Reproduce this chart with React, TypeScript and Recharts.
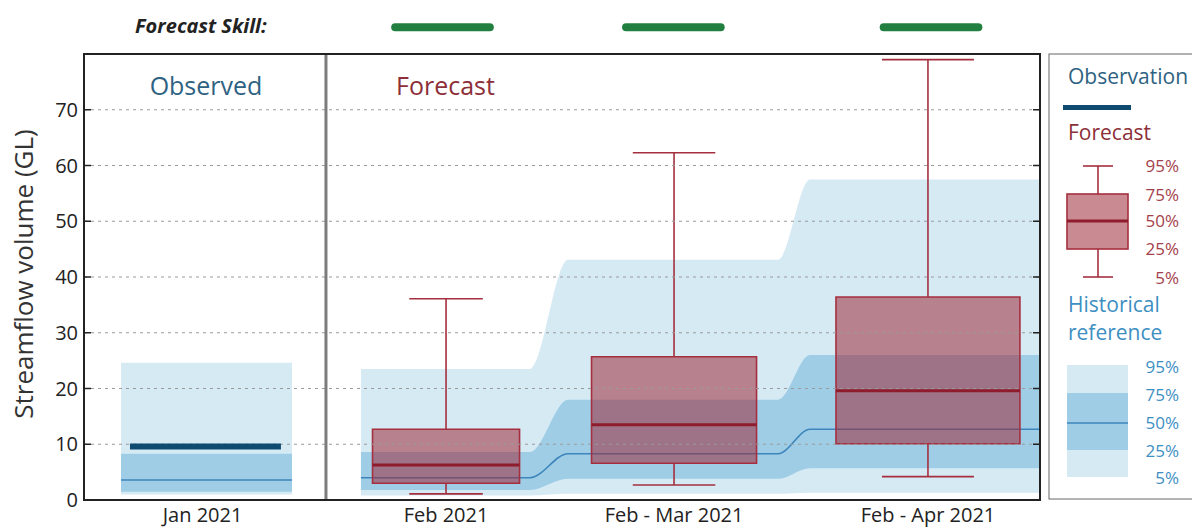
import React from 'react';
import {
  ComposedChart,
  Area,
  Line,
  XAxis,
  YAxis,
  CartesianGrid,
  ReferenceArea,
  ReferenceLine,
} from 'recharts';

if (typeof document !== 'undefined') {
  document.body.style.margin = '0';
  document.body.style.overflow = 'hidden';
}

// ---------- categories / labels ----------
const OBS_LABEL = 'Jan 2021';
const FORECAST_LABELS = ['Feb 2021', 'Feb - Mar 2021', 'Feb - Apr 2021'];
const Y_TICKS = [0, 10, 20, 30, 40, 50, 60, 70];

// ---------- observed month ----------
const OBSERVED_VOLUME = 9.6;
// historical reference for Jan: 5%, 25%, 50%, 75%, 95%
const JAN_HIST = [1.0, 1.5, 3.6, 8.3, 24.6];

// ---------- historical reference for forecast periods ----------
const HIST_P5 = [0.8, 1.1, 1.3];
const HIST_P25 = [1.8, 3.8, 5.7];
const HIST_P50 = [4.0, 8.3, 12.7];
const HIST_P75 = [8.6, 18.0, 26.0];
const HIST_P95 = [23.5, 43.1, 57.5];

// ---------- forecast quantiles ----------
const FC_P5 = [1.1, 2.7, 4.2];
const FC_P25 = [3.0, 6.6, 10.1];
const FC_P50 = [6.3, 13.5, 19.6];
const FC_P75 = [12.7, 25.7, 36.4];
const FC_P95 = [36.1, 62.3, 79.0];

// forecast skill per period
const FORECAST_SKILL = ['high', 'high', 'high'];

// ---------- layout (x axis units 0..100 across the plot) ----------
const JAN_CENTER = 12.4;
const JAN_SPAN = [3.87, 21.76];
const OBS_SPAN = [4.81, 20.6];
const DIVIDER_X = 25.31;
const FC_CENTERS = [37.87, 61.72, 88.28];
const SKILL_CENTERS = [37.5, 61.65, 88.6];
const BOX_HALF = [7.69, 8.63, 9.62];
const PERIOD_SPANS = [
  [28.97, 46.65],
  [50.63, 72.6],
  [75.94, 100],
];
const SKILL_Y = 84.8;
const SKILL_HALF = 4.95;

const W = 1192;
const H = 529;
const PLOT = { left: 84, right: 1040, top: 54, bottom: 500 };
const FONT = '"Open Sans", "Noto Sans", sans-serif';

const COLORS = {
  light: '#d6eaf4',
  mid: '#9fcde6',
  histLine: '#3d86bc',
  obs: '#0f4b70',
  boxFill: '#9e2a38',
  boxStroke: '#a52f3f',
  median: '#8e1c2c',
  grid: '#9a9a9a',
  frame: '#222',
  divider: '#7c7c7c',
  skill: '#21803f',
  obsText: '#2f6282',
  fcText: '#8c2f38',
  fcPct: '#a3414a',
  histText: '#3d8fc2',
  text: '#222',
};

const SKILL_COLORS: Record<string, string> = { high: COLORS.skill, medium: '#e0a020', low: '#c03030' };

// ---------- data rows ----------
type Row = {
  x: number;
  janOuter?: [number, number];
  janInner?: [number, number];
  jan50?: number;
  obs?: number;
  outer?: [number, number];
  inner?: [number, number];
  mid?: number;
};

const janFields = {
  janOuter: [JAN_HIST[0], JAN_HIST[4]] as [number, number],
  janInner: [JAN_HIST[1], JAN_HIST[3]] as [number, number],
  jan50: JAN_HIST[2],
};

const rows: Row[] = [];
rows.push({ x: JAN_SPAN[0], ...janFields });
rows.push({ x: OBS_SPAN[0], ...janFields, obs: OBSERVED_VOLUME });
rows.push({ x: OBS_SPAN[1], ...janFields, obs: OBSERVED_VOLUME });
rows.push({ x: JAN_SPAN[1], ...janFields });
PERIOD_SPANS.forEach((span, i) => {
  span.forEach((x) => {
    rows.push({
      x,
      outer: [HIST_P5[i], HIST_P95[i]],
      inner: [HIST_P25[i], HIST_P75[i]],
      mid: HIST_P50[i],
    });
  });
});

const TICK_X = [JAN_CENTER, ...FC_CENTERS];
const TICK_LABELS = [OBS_LABEL, ...FORECAST_LABELS];

const YTick = (props: any) => {
  const { x, y, payload } = props;
  return (
    <g>
      <text
        x={x}
        y={y}
        dy="0.35em"
        textAnchor="end"
        fontSize={20}
        fontFamily={FONT}
        fill={COLORS.text}
      >
        {payload.value}
      </text>
      <line x1={PLOT.left} x2={PLOT.left + 7} y1={y} y2={y} stroke={COLORS.frame} strokeWidth={1.5} />
      <line x1={PLOT.right - 7} x2={PLOT.right} y1={y} y2={y} stroke={COLORS.frame} strokeWidth={1.5} />
    </g>
  );
};

const FC_LEGEND_LABELS = [
  { t: '95%', y: 166 },
  { t: '75%', y: 195 },
  { t: '50%', y: 221 },
  { t: '25%', y: 249 },
  { t: '5%', y: 278 },
];
const HIST_LEGEND_LABELS = [
  { t: '95%', y: 367 },
  { t: '75%', y: 395 },
  { t: '50%', y: 423 },
  { t: '25%', y: 451 },
  { t: '5%', y: 478 },
];

export default function App() {
  const boxes = FORECAST_LABELS.flatMap((_, i) => {
    const c = FC_CENTERS[i];
    const hw = BOX_HALF[i];
    const cw = hw / 2;
    const lineProps = {
      stroke: COLORS.boxStroke,
      strokeWidth: 1.6,
      ifOverflow: 'visible' as const,
      zIndex: 460,
    };
    return [
      <ReferenceArea
        key={`box${i}`}
        x1={c - hw}
        x2={c + hw}
        y1={FC_P25[i]}
        y2={FC_P75[i]}
        fill={COLORS.boxFill}
        fillOpacity={0.55}
        stroke={COLORS.boxStroke}
        strokeWidth={1.6}
        strokeOpacity={1}
        ifOverflow="visible"
        zIndex={450}
      />,
      <ReferenceLine key={`wu${i}`} segment={[{ x: c, y: FC_P75[i] }, { x: c, y: FC_P95[i] }]} {...lineProps} />,
      <ReferenceLine key={`wl${i}`} segment={[{ x: c, y: FC_P5[i] }, { x: c, y: FC_P25[i] }]} {...lineProps} />,
      <ReferenceLine key={`cu${i}`} segment={[{ x: c - cw, y: FC_P95[i] }, { x: c + cw, y: FC_P95[i] }]} {...lineProps} />,
      <ReferenceLine key={`cl${i}`} segment={[{ x: c - cw, y: FC_P5[i] }, { x: c + cw, y: FC_P5[i] }]} {...lineProps} />,
      <ReferenceLine
        key={`md${i}`}
        segment={[{ x: c - hw, y: FC_P50[i] }, { x: c + hw, y: FC_P50[i] }]}
        stroke={COLORS.median}
        strokeWidth={3}
        ifOverflow="visible"
        zIndex={465}
      />,
    ];
  });

  const skills = FORECAST_SKILL.map((s, i) => (
    <ReferenceLine
      key={`sk${i}`}
      segment={[
        { x: SKILL_CENTERS[i] - SKILL_HALF, y: SKILL_Y },
        { x: SKILL_CENTERS[i] + SKILL_HALF, y: SKILL_Y },
      ]}
      stroke={SKILL_COLORS[s]}
      strokeWidth={8}
      strokeLinecap="round"
      ifOverflow="visible"
      zIndex={600}
    />
  ));

  return (
    <div style={{ position: 'relative', width: W, height: H, fontFamily: FONT }}>
      <ComposedChart
        width={W}
        height={H}
        data={rows}
        margin={{ top: PLOT.top, right: W - PLOT.right, bottom: 0, left: 0 }}
      >
        <Area
          dataKey="janOuter"
          type="linear"
          fill={COLORS.light}
          fillOpacity={1}
          stroke="none"
          dot={false}
          activeDot={false}
          isAnimationActive={false}
          zIndex={100}
        />
        <Area
          dataKey="janInner"
          type="linear"
          fill={COLORS.mid}
          fillOpacity={1}
          stroke="none"
          dot={false}
          activeDot={false}
          isAnimationActive={false}
          zIndex={101}
        />
        <Area
          dataKey="outer"
          type="monotone"
          fill={COLORS.light}
          fillOpacity={1}
          stroke="none"
          dot={false}
          activeDot={false}
          isAnimationActive={false}
          zIndex={100}
        />
        <Area
          dataKey="inner"
          type="monotone"
          fill={COLORS.mid}
          fillOpacity={1}
          stroke="none"
          dot={false}
          activeDot={false}
          isAnimationActive={false}
          zIndex={101}
        />
        <Line
          dataKey="jan50"
          type="linear"
          stroke={COLORS.histLine}
          strokeWidth={1.6}
          dot={false}
          activeDot={false}
          isAnimationActive={false}
          zIndex={150}
        />
        <Line
          dataKey="mid"
          type="monotone"
          stroke={COLORS.histLine}
          strokeWidth={1.6}
          dot={false}
          activeDot={false}
          isAnimationActive={false}
          zIndex={150}
        />
        {boxes}
        <CartesianGrid
          vertical={false}
          stroke={COLORS.grid}
          strokeDasharray="3 4"
          strokeWidth={1}
          zIndex={470}
        />
        <ReferenceLine x={DIVIDER_X} stroke={COLORS.divider} strokeWidth={3} zIndex={480} />
        <Line
          dataKey="obs"
          type="linear"
          stroke={COLORS.obs}
          strokeWidth={6}
          dot={false}
          activeDot={false}
          isAnimationActive={false}
          zIndex={490}
        />
        {skills}
        <XAxis
          dataKey="x"
          type="number"
          domain={[0, 100]}
          allowDataOverflow
          ticks={TICK_X}
          interval={0}
          tickLine={false}
          axisLine={false}
          tickSize={0}
          tickMargin={8}
          height={29}
          tickFormatter={(v: number) => TICK_LABELS[TICK_X.indexOf(v)] ?? ''}
          tick={{ fontSize: 20, fill: COLORS.text, fontFamily: FONT }}
        />
        <YAxis
          type="number"
          domain={[0, 80]}
          allowDataOverflow
          ticks={Y_TICKS}
          interval={0}
          width={PLOT.left}
          tickSize={0}
          tickMargin={6}
          axisLine={false}
          tickLine={false}
          tick={(p: any) => <YTick {...p} />}
        />
      </ComposedChart>

      <svg
        width={W}
        height={H}
        style={{ position: 'absolute', left: 0, top: 0, pointerEvents: 'none' }}
      >
        {/* plot frame */}
        <rect
          x={PLOT.left}
          y={PLOT.top}
          width={PLOT.right - PLOT.left}
          height={PLOT.bottom - PLOT.top}
          fill="none"
          stroke={COLORS.frame}
          strokeWidth={2}
        />
        {/* header */}
        <text x={135} y={33} fontSize={20} fontWeight="bold" fontStyle="italic" fill={COLORS.text} fontFamily={FONT}>
          Forecast Skill:
        </text>
        <text x={206} y={95} fontSize={25} textAnchor="middle" fill={COLORS.obsText} fontFamily={FONT}>
          Observed
        </text>
        <text x={396} y={95} fontSize={25} fill={COLORS.fcText} fontFamily={FONT}>
          Forecast
        </text>
        {/* y label */}
        <text
          x={33}
          y={274}
          transform="rotate(-90 33 274)"
          textAnchor="middle"
          fontSize={26}
          fill="#333"
          fontFamily={FONT}
        >
          Streamflow volume (GL)
        </text>

        {/* legend */}
        <rect x={1049} y={54} width={200} height={445} fill="#fff" stroke="#666" strokeWidth={1} />
        <text x={1068} y={84} fontSize={21} fill={COLORS.obsText} fontFamily={FONT}>
          Observation
        </text>
        <line x1={1063} x2={1131} y1={107.5} y2={107.5} stroke={COLORS.obs} strokeWidth={5} />
        <text x={1068} y={140} fontSize={21} fill={COLORS.fcText} fontFamily={FONT}>
          Forecast
        </text>
        <line x1={1098} x2={1098} y1={166} y2={194} stroke={COLORS.boxStroke} strokeWidth={1.6} />
        <line x1={1098} x2={1098} y1={249} y2={277} stroke={COLORS.boxStroke} strokeWidth={1.6} />
        <line x1={1083} x2={1113} y1={166} y2={166} stroke={COLORS.boxStroke} strokeWidth={1.6} />
        <line x1={1083} x2={1113} y1={277} y2={277} stroke={COLORS.boxStroke} strokeWidth={1.6} />
        <rect
          x={1067}
          y={194}
          width={61}
          height={55}
          fill={COLORS.boxFill}
          fillOpacity={0.55}
          stroke={COLORS.boxStroke}
          strokeWidth={1.6}
        />
        <line x1={1067} x2={1128} y1={221} y2={221} stroke={COLORS.median} strokeWidth={3} />
        {FC_LEGEND_LABELS.map((l) => (
          <text key={'f' + l.t} x={1179} y={l.y} dy="0.35em" textAnchor="end" fontSize={17} fill={COLORS.fcPct} fontFamily={FONT}>
            {l.t}
          </text>
        ))}
        <text x={1068} y={312} fontSize={21} fill={COLORS.histText} fontFamily={FONT}>
          Historical
        </text>
        <text x={1068} y={340} fontSize={21} fill={COLORS.histText} fontFamily={FONT}>
          reference
        </text>
        <rect x={1067} y={365} width={61} height={112} fill={COLORS.light} />
        <rect x={1067} y={393} width={61} height={57} fill={COLORS.mid} />
        <line x1={1067} x2={1128} y1={423} y2={423} stroke={COLORS.histLine} strokeWidth={1.6} />
        {HIST_LEGEND_LABELS.map((l) => (
          <text key={'h' + l.t} x={1179} y={l.y} dy="0.35em" textAnchor="end" fontSize={17} fill={COLORS.histText} fontFamily={FONT}>
            {l.t}
          </text>
        ))}
      </svg>
    </div>
  );
}
